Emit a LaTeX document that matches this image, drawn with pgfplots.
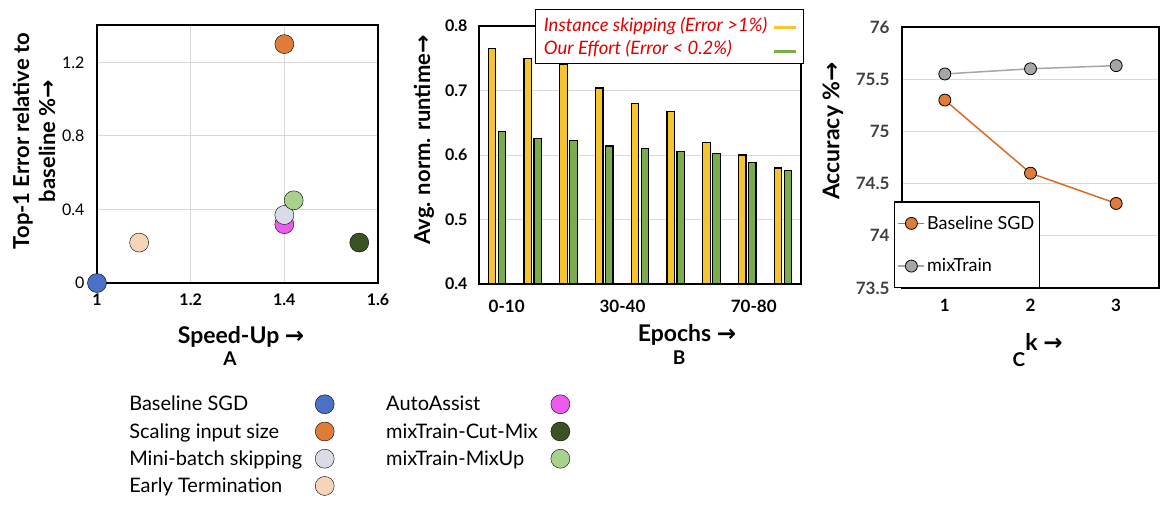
\documentclass[border=0pt]{standalone}
\usepackage{fontspec}
\setmainfont{Lato}
\newfontfamily\arrowfont{DejaVu Sans}
\usepackage{pgfplots}
\pgfplotsset{compat=1.18}

\definecolor{gridgray}{HTML}{D9D9D9}
\definecolor{cBlue}{HTML}{4A70C8}
\definecolor{cOrange}{HTML}{E07B39}
\definecolor{cMini}{HTML}{D8DCE6}
\definecolor{cEarly}{HTML}{F5D5B8}
\definecolor{cAuto}{HTML}{EC5CEC}
\definecolor{cCut}{HTML}{3B5323}
\definecolor{cMix}{HTML}{A9D18E}
\definecolor{barYellow}{HTML}{F6C42D}
\definecolor{barGreen}{HTML}{7BAC4B}
\definecolor{lineOrange}{HTML}{D96B25}
\definecolor{lineGray}{HTML}{A6A6A6}
\definecolor{tickGray}{HTML}{404040}
\definecolor{legRed}{HTML}{E00000}

\newcommand{\ar}{{\arrowfont\bfseries →}}
\newcommand{\fs}[1]{\fontsize{#1}{#1}\selectfont}

\begin{document}
\begin{tikzpicture}
\useasboundingbox (0,0) rectangle (1170pt,-514pt);

% ---------------- A: scatter
\begin{axis}[
  at={(97pt,-283pt)}, anchor=south west,
  scale only axis, width=281pt, height=258pt,
  xmin=1, xmax=1.6, ymin=0, ymax=1.404,
  xtick={1,1.2,1.4,1.6}, ytick={0,0.4,0.8,1.2},
  grid=major, major grid style={draw=gridgray, line width=1pt},
  axis line style={line width=1.5pt}, tick style={draw=none},
  clip=false,
  /pgf/number format/assume math mode=true,
  xticklabel style={font=\fs{16}\bfseries, yshift=-7pt},
  yticklabel style={font=\fs{16}, xshift=-9pt},
  every axis plot/.append style={only marks, mark=*, mark size=9.5pt,
    mark options={draw=black, line width=1pt}},
  legend image code/.code={\draw[#1, mark repeat=2, mark phase=2]
    plot coordinates {(0pt,0pt) (11pt,0pt) (22pt,0pt)};},
  legend plot pos=right, legend cell align=left,
  legend columns=2,
  legend style={at={(0.107,-0.43)}, anchor=north west, draw=none, fill=none,
    font=\fs{20}, inner sep=0pt, row sep=7pt,
    /tikz/every odd column/.append style={column sep=11pt},
    /tikz/every even column/.append style={column sep=50pt}},
]
\addplot[mark options={fill=cBlue}] coordinates {(1,0)};
\addlegendentry{Baseline SGD}
\addplot[mark options={fill=cAuto}] coordinates {(1.4,0.32)};
\addlegendentry{AutoAssist}
\addplot[mark options={fill=cOrange}] coordinates {(1.4,1.3)};
\addlegendentry{Scaling input size}
\addplot[mark options={fill=cCut}] coordinates {(1.56,0.22)};
\addlegendentry{mixTrain-Cut-Mix}
\addplot[mark options={fill=cMini}] coordinates {(1.4,0.37)};
\addlegendentry{Mini-batch skipping}
\addplot[mark options={fill=cMix}] coordinates {(1.42,0.45)};
\addlegendentry{mixTrain-MixUp}
\addplot[mark options={fill=cEarly}] coordinates {(1.09,0.22)};
\addlegendentry{Early Termination}
\end{axis}

% ---------------- B: bars
\begin{axis}[
  at={(479pt,-284pt)}, anchor=south west,
  scale only axis, width=322pt, height=258pt,
  ybar=2.5pt, bar width=7.5pt,
  xmin=-0.5, xmax=8.5, ymin=0.4, ymax=0.8,
  xtick={0.274,3.51,7.18}, xticklabels={0-10,30-40,70-80},
  ytick={0.4,0.5,0.6,0.7,0.8},
  /pgf/number format/fixed, /pgf/number format/fixed zerofill,
  /pgf/number format/precision=1,
  ymajorgrids, major grid style={draw=gridgray, line width=1pt},
  axis line style={line width=1.5pt}, tick style={draw=none},
  /pgf/number format/assume math mode=true,
  xticklabel style={font=\fs{17}\bfseries, yshift=-8pt},
  yticklabel style={font=\fs{16}\bfseries, xshift=-8pt},
  legend plot pos=right, legend cell align=left,
  legend style={at={(1.009,1.065)}, anchor=north east, draw=black,
    line width=1.2pt, fill=white, font=\fs{18.5}\itshape, text=legRed,
    row sep=4pt, inner xsep=6pt, inner ysep=5pt,
    /tikz/every odd column/.append style={column sep=3pt}},
]
\addplot[fill=barYellow, draw=black, line width=1.2pt,
  legend image code/.code={\draw[barYellow, line width=3pt] (0pt,-3pt) -- (22pt,-3pt);}]
  coordinates {(0,0.765) (1,0.750) (2,0.740) (3,0.704) (4,0.680) (5,0.668) (6,0.620) (7,0.600) (8,0.580)};
\addlegendentry{Instance skipping (Error >1\%)}
\addplot[fill=barGreen, draw=black, line width=1.2pt,
  legend image code/.code={\draw[barGreen, line width=3pt] (0pt,-3pt) -- (22pt,-3pt);}]
  coordinates {(0,0.637) (1,0.625) (2,0.622) (3,0.614) (4,0.610) (5,0.606) (6,0.602) (7,0.588) (8,0.576)};
\addlegendentry{Our Effort (Error < 0.2\%)}
\end{axis}

% ---------------- C: lines
\begin{axis}[
  at={(902pt,-288pt)}, anchor=south west,
  scale only axis, width=257pt, height=261pt,
  xmin=0.5, xmax=3.5, ymin=73.5, ymax=76,
  xtick={1,2,3}, ytick={73.5,74,74.5,75,75.5,76},
  ymajorgrids, major grid style={draw=gridgray, line width=1pt},
  axis line style={line width=2pt}, tick style={draw=none},
  /pgf/number format/assume math mode=true,
  xticklabel style={font=\fs{17}\bfseries, text=black, yshift=-8pt},
  yticklabel style={font=\fs{17}\bfseries, text=tickGray, xshift=-9pt},
  legend image code/.code={\draw[#1, mark repeat=2, mark phase=2]
    plot coordinates {(0pt,0pt) (13pt,0pt) (26pt,0pt)};},
  legend cell align=left,
  legend style={at={(-0.031,0)}, anchor=south west, draw=black,
    line width=1.2pt, fill=white, font=\fs{18},
    row sep=24pt, inner xsep=3pt, inner ysep=12pt},
]
\addplot[lineOrange, line width=1.5pt, mark=*, mark size=6pt,
  mark options={fill=cOrange, draw=black, line width=0.8pt}]
  coordinates {(1,75.30) (2,74.60) (3,74.31)};
\addlegendentry{Baseline SGD}
\addplot[lineGray, line width=1.5pt, mark=*, mark size=6pt,
  mark options={fill=lineGray, draw=black, line width=0.8pt}]
  coordinates {(1,75.55) (2,75.60) (3,75.63)};
\addlegendentry{mixTrain}
\end{axis}

% ---------------- axis titles
\node[rotate=90, align=center, font=\fontsize{22}{26}\selectfont\bfseries] at (34pt,-141pt)
  {Top-1 Error relative to\\ baseline \%\ar};
\node[rotate=90, font=\fs{22}\bfseries] at (424pt,-140pt) {Avg. norm. runtime\ar};
\node[rotate=90, font=\fs{23}\bfseries] at (833pt,-131pt) {Accuracy \%\ar};

\node[font=\fs{23}\bfseries] at (241pt,-337pt) {Speed-Up \ar};
\node[font=\fs{19}\bfseries] at (230pt,-359pt) {A};
\node[font=\fs{23}\bfseries] at (687pt,-335pt) {Epochs \ar};
\node[font=\fs{19}\bfseries] at (679pt,-358pt) {B};
\node[font=\fs{23}\bfseries] at (1044pt,-342pt) {k \ar};
\node[font=\fs{19}\bfseries] at (1019pt,-360pt) {C};
\end{tikzpicture}
\end{document}
